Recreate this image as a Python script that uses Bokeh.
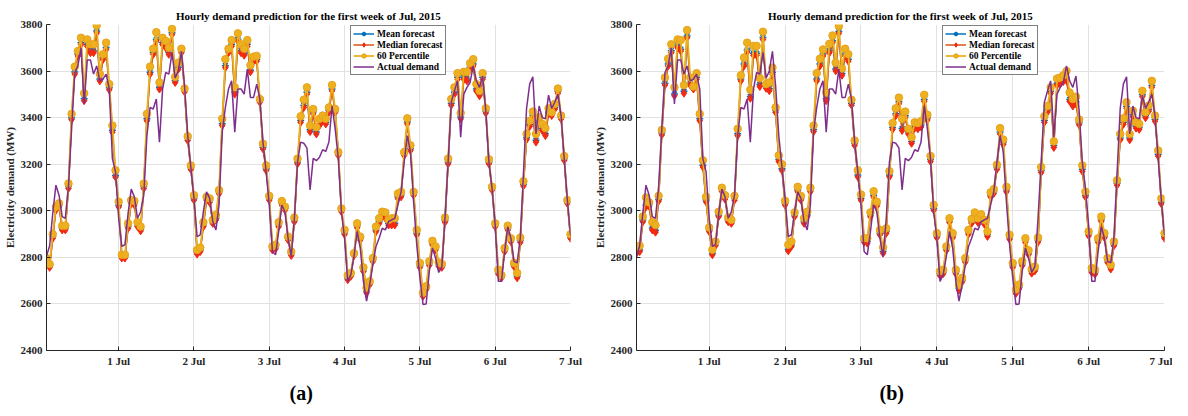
from bokeh.plotting import figure
from bokeh.layouts import row
from bokeh.models import Range1d, FixedTicker, Legend, LegendItem, Title
from bokeh.embed import file_html
from bokeh.resources import INLINE

FONT = "Liberation Serif"
TITLE = "Hourly demand prediction for the first week of Jul, 2015"

# hours since 30 Jun 00:00 (first point 30 Jun 01:00, last 7 Jul 00:00)
hour_index = list(range(1, 169))
day_ticks = [1, 2, 3, 4, 5, 6, 7]
day_labels = ["1 Jul", "2 Jul", "3 Jul", "4 Jul", "5 Jul", "6 Jul", "7 Jul"]
y_ticks = [2400, 2600, 2800, 3000, 3200, 3400, 3600, 3800]

actual = [
    2805, 2850, 2990, 3110, 3067, 2975, 2968, 3105, 3350, 3594, 3622, 3700, 3459, 3648, 3648, 3587, 3622, 3558, 3565, 3587, 3523, 3224, 3167, 2968,
    2847, 2854, 2989, 3093, 3060, 2968, 2996, 3067, 3323, 3444, 3437, 3480, 3295, 3523, 3594, 3587, 3679, 3570, 3600, 3685, 3537, 3323, 3188, 3053,
    2889, 2897, 2996, 3081, 3053, 2953, 2918, 3025, 3338, 3444, 3523, 3558, 3338, 3523, 3523, 3501, 3608, 3487, 3487, 3544, 3480, 3295, 3167, 3025,
    2825, 2811, 2911, 3025, 2996, 2882, 2804, 2968, 3210, 3295, 3290, 3270, 3090, 3225, 3215, 3230, 3262, 3255, 3295, 3451, 3352, 3224, 2996, 2882,
    2697, 2726, 2804, 2911, 2840, 2697, 2612, 2683, 2768, 2847, 2882, 2925, 2918, 2953, 2961, 2968, 3025, 3081, 3210, 3323, 3252, 3039, 2854, 2712,
    2598, 2600, 2740, 2840, 2797, 2735, 2760, 2968, 3210, 3466, 3515, 3558, 3316, 3501, 3530, 3551, 3622, 3558, 3530, 3579, 3430, 3210, 3096, 2939,
    2697, 2697, 2825, 2932, 2882, 2783, 2776, 2882, 3160, 3440, 3545, 3575, 3330, 3450, 3400, 3395, 3497, 3440, 3466, 3501, 3409, 3224, 3046, 2896,
]

# panel (a)
p60_a = [
    2797, 2771, 2900, 3017, 3032, 2936, 2936, 3117, 3416, 3619, 3686, 3743, 3505, 3736, 3715, 3715, 3796, 3587, 3672, 3722, 3544, 3366, 3174, 3039,
    2811, 2811, 2946, 3046, 3042, 2951, 2932, 3117, 3416, 3619, 3696, 3767, 3551, 3743, 3729, 3700, 3781, 3575, 3636, 3696, 3525, 3320, 3195, 3067,
    2832, 2842, 2951, 3060, 3053, 2961, 2982, 3089, 3395, 3651, 3696, 3733, 3530, 3762, 3715, 3696, 3733, 3625, 3662, 3665, 3480, 3288, 3195, 3064,
    2847, 2854, 2951, 3042, 3017, 2889, 2825, 2971, 3224, 3406, 3477, 3530, 3366, 3437, 3359, 3395, 3409, 3395, 3444, 3540, 3437, 3252, 3010, 2918,
    2723, 2733, 2818, 2946, 2889, 2757, 2669, 2697, 2797, 2932, 2968, 2996, 2993, 2961, 2968, 2968, 3074, 3081, 3252, 3397, 3281, 3081, 2918, 2776,
    2648, 2676, 2783, 2871, 2847, 2778, 2772, 2971, 3224, 3480, 3530, 3591, 3420, 3597, 3597, 3634, 3651, 3544, 3515, 3591, 3440, 3221, 3103, 2946,
    2747, 2723, 2840, 2936, 2882, 2776, 2733, 2885, 3127, 3330, 3387, 3426, 3330, 3402, 3373, 3355, 3440, 3423, 3459, 3525, 3409, 3235, 3046, 2899,
]
med_a = [
    2783, 2757, 2882, 3003, 3017, 2918, 2918, 3096, 3392, 3587, 3665, 3714, 3473, 3707, 3679, 3679, 3764, 3558, 3650, 3693, 3520, 3338, 3145, 3017,
    2797, 2797, 2925, 3032, 3025, 2932, 2914, 3096, 3387, 3587, 3672, 3729, 3523, 3714, 3700, 3672, 3757, 3551, 3608, 3679, 3511, 3302, 3178, 3046,
    2814, 2825, 2932, 3046, 3036, 2946, 2961, 3074, 3366, 3615, 3679, 3707, 3501, 3729, 3679, 3668, 3707, 3597, 3643, 3643, 3466, 3266, 3174, 3046,
    2832, 2837, 2932, 3025, 3003, 2875, 2808, 2953, 3202, 3380, 3444, 3501, 3340, 3416, 3330, 3366, 3387, 3373, 3423, 3515, 3423, 3238, 2996, 2899,
    2704, 2719, 2808, 2928, 2875, 2740, 2648, 2683, 2783, 2911, 2946, 2975, 2968, 2939, 2939, 2939, 3053, 3060, 3238, 3373, 3259, 3067, 2897, 2757,
    2633, 2662, 2766, 2854, 2832, 2762, 2757, 2951, 3202, 3454, 3501, 3565, 3395, 3565, 3558, 3608, 3622, 3515, 3494, 3565, 3420, 3202, 3089, 2932,
    2729, 2712, 2825, 2918, 2868, 2761, 2712, 2865, 3107, 3306, 3363, 3402, 3295, 3380, 3345, 3323, 3416, 3409, 3437, 3505, 3395, 3217, 3032, 2882,
]
mean_a = [
    2790, 2764, 2890, 3010, 3024, 2925, 2925, 3104, 3400, 3596, 3672, 3722, 3481, 3715, 3687, 3686, 3772, 3566, 3657, 3701, 3528, 3346, 3152, 3024,
    2804, 2804, 2932, 3040, 3032, 2940, 2921, 3104, 3395, 3595, 3680, 3737, 3531, 3722, 3707, 3680, 3765, 3558, 3616, 3686, 3518, 3310, 3185, 3053,
    2821, 2832, 2940, 3053, 3044, 2953, 2968, 3082, 3374, 3623, 3686, 3715, 3509, 3737, 3687, 3675, 3715, 3604, 3650, 3651, 3474, 3273, 3181, 3053,
    2839, 2844, 2940, 3032, 3010, 2882, 2816, 2960, 3210, 3388, 3452, 3509, 3348, 3424, 3338, 3374, 3395, 3380, 3431, 3523, 3430, 3245, 3004, 2906,
    2711, 2726, 2815, 2936, 2882, 2747, 2655, 2690, 2790, 2918, 2953, 2982, 2975, 2946, 2946, 2947, 3060, 3068, 3246, 3381, 3266, 3074, 2904, 2764,
    2640, 2669, 2773, 2861, 2839, 2769, 2764, 2958, 3210, 3462, 3509, 3573, 3403, 3573, 3566, 3616, 3630, 3523, 3502, 3573, 3428, 3210, 3096, 2939,
    2736, 2719, 2832, 2925, 2875, 2768, 2719, 2872, 3114, 3314, 3371, 3410, 3303, 3388, 3353, 3331, 3424, 3416, 3445, 3513, 3402, 3224, 3039, 2889,
]

# panel (b)
p60_b = [
    2843, 2850, 2975, 3057, 3036, 2951, 2939, 3064, 3347, 3572, 3653, 3715, 3530, 3736, 3733, 3540, 3776, 3572, 3534, 3591, 3416, 3217, 3060, 2928,
    2833, 2868, 2996, 3099, 3067, 2971, 2961, 3064, 3352, 3582, 3658, 3722, 3520, 3708, 3708, 3570, 3769, 3544, 3551, 3615, 3444, 3238, 3200, 3043,
    2854, 2868, 2993, 3103, 3064, 2968, 2996, 3099, 3366, 3591, 3653, 3693, 3508, 3717, 3753, 3636, 3793, 3611, 3696, 3672, 3477, 3302, 3174, 3070,
    2882, 2882, 2993, 3084, 3039, 2918, 2843, 2925, 3170, 3377, 3440, 3486, 3395, 3426, 3352, 3316, 3380, 3377, 3385, 3498, 3412, 3235, 3025, 2904,
    2740, 2747, 2847, 2968, 2904, 2747, 2680, 2712, 2797, 2918, 2965, 2993, 2968, 2985, 2961, 2911, 3079, 3093, 3198, 3355, 3306, 3103, 2897, 2776,
    2662, 2683, 2783, 2882, 2830, 2750, 2760, 2885, 3188, 3406, 3450, 3530, 3298, 3568, 3572, 3582, 3600, 3508, 3480, 3490, 3392, 3195, 3082, 2911,
    2754, 2747, 2882, 2975, 2904, 2797, 2768, 2868, 3131, 3330, 3397, 3466, 3330, 3430, 3380, 3373, 3515, 3423, 3452, 3558, 3409, 3259, 3053, 2904,
]
med_b = [
    2818, 2825, 2953, 3017, 3020, 2918, 2908, 3042, 3326, 3540, 3622, 3679, 3494, 3700, 3686, 3505, 3743, 3540, 3523, 3565, 3387, 3188, 3039, 2911,
    2811, 2851, 2975, 3084, 3050, 2953, 2946, 3046, 3323, 3558, 3622, 3682, 3483, 3668, 3668, 3534, 3736, 3526, 3516, 3587, 3423, 3212, 3174, 3025,
    2828, 2847, 2975, 3082, 3046, 2946, 2975, 3082, 3340, 3558, 3622, 3665, 3473, 3679, 3722, 3601, 3762, 3582, 3665, 3643, 3454, 3281, 3146, 3046,
    2865, 2861, 2975, 3060, 3020, 2897, 2818, 2904, 3146, 3350, 3409, 3460, 3345, 3400, 3330, 3290, 3355, 3352, 3360, 3470, 3390, 3212, 3003, 2885,
    2722, 2730, 2830, 2950, 2885, 2730, 2660, 2695, 2780, 2900, 2946, 2975, 2950, 2965, 2943, 2890, 3060, 3075, 3178, 3330, 3285, 3082, 2878, 2757,
    2645, 2665, 2765, 2865, 2812, 2732, 2742, 2866, 3165, 3380, 3425, 3505, 3272, 3540, 3545, 3555, 3560, 3470, 3450, 3460, 3370, 3170, 3060, 2893,
    2735, 2728, 2865, 2955, 2885, 2778, 2750, 2850, 3110, 3305, 3372, 3440, 3305, 3405, 3355, 3350, 3490, 3400, 3428, 3530, 3385, 3235, 3030, 2882,
]
mean_b = [
    2825, 2832, 2960, 3025, 3027, 2926, 2915, 3050, 3334, 3548, 3630, 3687, 3502, 3708, 3694, 3513, 3751, 3548, 3530, 3573, 3395, 3196, 3046, 2918,
    2818, 2858, 2982, 3091, 3058, 2960, 2953, 3054, 3331, 3566, 3630, 3690, 3491, 3676, 3676, 3542, 3744, 3534, 3524, 3595, 3431, 3220, 3181, 3032,
    2835, 2854, 2982, 3089, 3053, 2953, 2982, 3090, 3348, 3566, 3630, 3673, 3481, 3687, 3730, 3609, 3770, 3590, 3673, 3651, 3462, 3289, 3154, 3053,
    2872, 2868, 2982, 3067, 3027, 2904, 2825, 2911, 3154, 3358, 3417, 3468, 3353, 3408, 3338, 3298, 3363, 3360, 3368, 3478, 3398, 3220, 3010, 2892,
    2729, 2737, 2837, 2957, 2892, 2737, 2667, 2702, 2787, 2907, 2953, 2982, 2957, 2972, 2950, 2897, 3067, 3082, 3186, 3338, 3293, 3090, 2885, 2764,
    2652, 2672, 2772, 2872, 2819, 2739, 2749, 2873, 3173, 3388, 3433, 3513, 3280, 3548, 3553, 3563, 3568, 3478, 3458, 3468, 3378, 3178, 3067, 2900,
    2742, 2735, 2872, 2962, 2892, 2785, 2757, 2857, 3118, 3313, 3380, 3448, 3313, 3413, 3363, 3358, 3498, 3408, 3436, 3538, 3393, 3243, 3037, 2889,
]

x_days = [h / 24 for h in hour_index]

BLUE = "#0072BD"
RED_LINE = "#D95319"
RED_MARK = "#F22A12"
ORANGE = "#EDB120"
ORANGE_EDGE = "#E9A21A"
PURPLE = "#7E2F8E"
AXIS = "#262626"


def make_panel(p60, med, mean, tag, width, bl, br, legend_x):
    p = figure(width=width, height=414, output_backend="svg", toolbar_location=None,
               x_range=Range1d(1 / 24, 7), y_range=Range1d(2400, 3800),
               min_border_left=bl, min_border_right=br, min_border_top=24,
               min_border_bottom=62, title=TITLE)
    p.outline_line_color = None
    p.background_fill_color = "white"
    p.border_fill_color = "white"

    p.title.text_font = FONT
    p.title.text_font_style = "bold"
    p.title.text_font_size = "11px"
    p.title.align = "center"
    p.title.standoff = 5
    p.title.text_color = "black"

    for ax in (p.xaxis[0], p.yaxis[0]):
        ax.axis_line_color = AXIS
        ax.axis_line_width = 1
        ax.major_tick_line_color = AXIS
        ax.major_tick_in = 4
        ax.major_tick_out = 0
        ax.minor_tick_line_color = None
        ax.major_label_text_font = FONT
        ax.major_label_text_font_style = "bold"
        ax.major_label_text_font_size = "11px"
        ax.major_label_text_color = AXIS
        ax.major_label_standoff = 4

    p.xaxis.ticker = FixedTicker(ticks=day_ticks)
    p.xaxis.major_label_overrides = {t: l for t, l in zip(day_ticks, day_labels)}
    p.yaxis.ticker = FixedTicker(ticks=y_ticks)
    p.yaxis.axis_label = "Electricity demand (MW)"
    p.yaxis.axis_label_text_font = FONT
    p.yaxis.axis_label_text_font_style = "bold"
    p.yaxis.axis_label_text_font_size = "11px"
    p.yaxis.axis_label_text_color = AXIS
    p.yaxis.axis_label_standoff = 2

    p.xgrid.ticker = FixedTicker(ticks=day_ticks)
    p.ygrid.ticker = FixedTicker(ticks=y_ticks)
    for g in (p.xgrid[0], p.ygrid[0]):
        g.grid_line_color = "#e2e2e2"
        g.grid_line_width = 1

    ml = p.line(x_days, mean, line_color=BLUE, line_width=1.5)
    mm = p.scatter(x_days, mean, marker="asterisk", size=7, line_color=BLUE, line_width=1.5)
    dl = p.line(x_days, med, line_color=RED_LINE, line_width=1.5)
    dm = p.scatter(x_days, med, marker="diamond", size=8, fill_color=RED_MARK,
                   line_color=RED_MARK, line_width=1)
    ol = p.line(x_days, p60, line_color=ORANGE, line_width=1.8)
    om = p.scatter(x_days, p60, marker="circle", size=7.5, fill_color=ORANGE,
                   line_color=ORANGE_EDGE, line_width=1)
    al = p.line(x_days, actual, line_color=PURPLE, line_width=1.5)

    legend = Legend(items=[
        LegendItem(label="Mean forecast", renderers=[ml, mm]),
        LegendItem(label="Median forecast", renderers=[dl, dm]),
        LegendItem(label="60 Percentile", renderers=[ol, om]),
        LegendItem(label="Actual demand", renderers=[al]),
    ], location=(legend_x, 275))
    legend.border_line_color = "black"
    legend.border_line_width = 1
    legend.background_fill_color = "white"
    legend.background_fill_alpha = 1
    legend.padding = 2
    legend.spacing = 0
    legend.margin = 0
    legend.glyph_width = 21
    legend.glyph_height = 11
    legend.label_height = 11
    legend.label_standoff = 3
    legend.label_text_font = FONT
    legend.label_text_font_style = "bold"
    legend.label_text_font_size = "9.5px"
    legend.label_text_color = "black"
    p.add_layout(legend)

    sub = Title(text=tag, align="left", offset=243, standoff=21, text_font=FONT,
                text_font_style="bold", text_font_size="20px", text_color="black")
    p.add_layout(sub, "below")
    return p


pa = make_panel(p60_a, med_a, mean_a, "(a)", 590, 40, 20, 304)
pb = make_panel(p60_b, med_b, mean_b, "(b)", 582, 44, 8, 306)

layout = row(pa, pb)
open("out.html", "w").write(file_html(layout, INLINE))
